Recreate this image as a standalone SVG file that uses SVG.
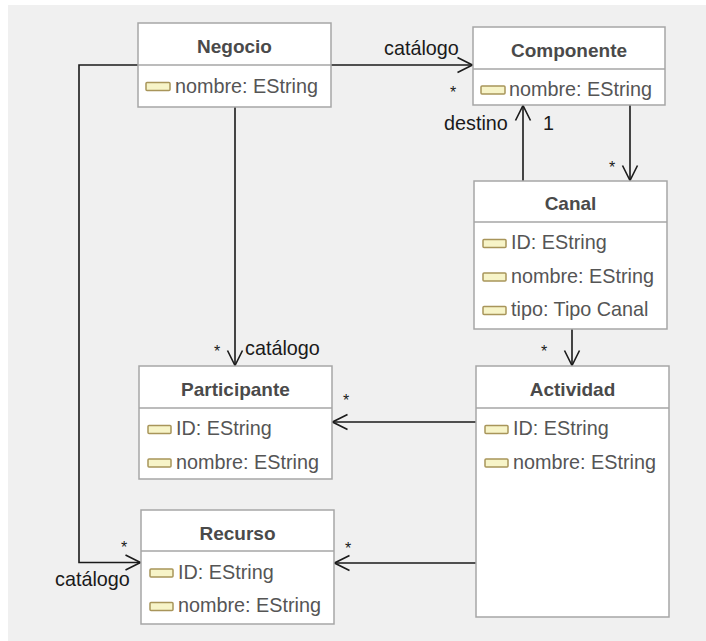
<svg xmlns="http://www.w3.org/2000/svg" width="706" height="641" viewBox="0 0 706 641">
<defs>
<style>
.box{fill:#ffffff;stroke:#a6a6a6;stroke-width:1.5}
.sep{stroke:#a6a6a6;stroke-width:1.5}
.title{font-family:"Liberation Sans",Arial,sans-serif;font-size:19px;font-weight:bold;fill:#4a4a4a;text-anchor:middle}
.attr{font-family:"Liberation Sans",Arial,sans-serif;font-size:19.8px;fill:#555555}
.icon{fill:#f7f4c8;stroke:#a8955a;stroke-width:1.5}
.lbl{font-family:"Liberation Sans",Arial,sans-serif;font-size:19.8px;fill:#1a1a1a}
.star{font-family:"Liberation Sans",Arial,sans-serif;font-size:16px;fill:#1a1a1a}
.edge{fill:none;stroke:#1a1a1a;stroke-width:1.6}
</style>
<marker id="open" viewBox="0 0 18 18" refX="16" refY="9" markerWidth="18" markerHeight="18" markerUnits="userSpaceOnUse" orient="auto">
<path d="M1,1.5 L16,9 L1,16.5" fill="none" stroke="#1a1a1a" stroke-width="1.6"/>
</marker>
</defs>
<rect x="0" y="0" width="706" height="641" fill="#ffffff"/>
<rect x="8" y="5" width="698" height="636" fill="#f0f0f0"/>

<g id="connectors">
<path class="edge" d="M331,65 H472.5" marker-end="url(#open)"/>
<path class="edge" d="M138,65 H79 V562.5 H140.5" marker-end="url(#open)"/>
<path class="edge" d="M235,107 V365.5" marker-end="url(#open)"/>
<path class="edge" d="M523,181 V105.5" marker-end="url(#open)"/>
<path class="edge" d="M630,105 V180.5" marker-end="url(#open)"/>
<path class="edge" d="M572,329 V365.5" marker-end="url(#open)"/>
<path class="edge" d="M476,422 H332.5" marker-end="url(#open)"/>
<path class="edge" d="M476,563 H334.5" marker-end="url(#open)"/>
<text class="lbl" x="384" y="55">catálogo</text>
<text class="star" x="450" y="98">*</text>
<text class="lbl" x="444" y="130">destino</text>
<text class="lbl" x="543" y="130">1</text>
<text class="star" x="609" y="173">*</text>
<text class="star" x="541" y="357">*</text>
<text class="star" x="214" y="357">*</text>
<text class="lbl" x="245" y="355">catálogo</text>
<text class="star" x="343" y="406">*</text>
<text class="star" x="121" y="553">*</text>
<text class="lbl" x="55" y="586">catálogo</text>
<text class="star" x="345" y="554">*</text>
</g>

<g id="Negocio">
<rect class="box" x="138" y="23" width="193" height="84"/>
<line class="sep" x1="138" y1="65" x2="331" y2="65"/>
<text class="title" x="234.5" y="53">Negocio</text>
<rect class="icon" x="146" y="82.5" width="24" height="8" rx="1"/>
<text class="attr" x="175" y="92.5">nombre: EString</text>
</g>

<g id="Componente">
<rect class="box" x="473" y="27" width="192" height="78"/>
<line class="sep" x1="473" y1="69" x2="665" y2="69"/>
<text class="title" x="569" y="57">Componente</text>
<rect class="icon" x="481" y="86" width="24" height="8" rx="1"/>
<text class="attr" x="509" y="96">nombre: EString</text>
</g>

<g id="Canal">
<rect class="box" x="474" y="181" width="193" height="148"/>
<line class="sep" x1="474" y1="222" x2="667" y2="222"/>
<text class="title" x="570.5" y="210">Canal</text>
<rect class="icon" x="483" y="239.5" width="23" height="8" rx="1"/>
<text class="attr" x="511" y="249">ID: EString</text>
<rect class="icon" x="483" y="273" width="23" height="8" rx="1"/>
<text class="attr" x="511" y="282.5">nombre: EString</text>
<rect class="icon" x="483" y="306.5" width="23" height="8" rx="1"/>
<text class="attr" x="511" y="316">tipo: Tipo Canal</text>
</g>

<g id="Actividad">
<rect class="box" x="476" y="366" width="193" height="251"/>
<line class="sep" x1="476" y1="408" x2="669" y2="408"/>
<text class="title" x="572.5" y="395.5">Actividad</text>
<rect class="icon" x="485" y="425.5" width="23" height="8" rx="1"/>
<text class="attr" x="513" y="435">ID: EString</text>
<rect class="icon" x="485" y="459" width="23" height="8" rx="1"/>
<text class="attr" x="513" y="468.5">nombre: EString</text>
</g>

<g id="Participante">
<rect class="box" x="139" y="366" width="193" height="113"/>
<line class="sep" x1="139" y1="408" x2="332" y2="408"/>
<text class="title" x="235.5" y="395.5">Participante</text>
<rect class="icon" x="148" y="425.5" width="23" height="8" rx="1"/>
<text class="attr" x="176" y="435">ID: EString</text>
<rect class="icon" x="148" y="459" width="23" height="8" rx="1"/>
<text class="attr" x="176" y="468.5">nombre: EString</text>
</g>

<g id="Recurso">
<rect class="box" x="141" y="510" width="193" height="114"/>
<line class="sep" x1="141" y1="551" x2="334" y2="551"/>
<text class="title" x="237.5" y="540">Recurso</text>
<rect class="icon" x="150" y="569" width="23" height="8" rx="1"/>
<text class="attr" x="178" y="578.5">ID: EString</text>
<rect class="icon" x="150" y="602.5" width="23" height="8" rx="1"/>
<text class="attr" x="178" y="612">nombre: EString</text>
</g>
</svg>
